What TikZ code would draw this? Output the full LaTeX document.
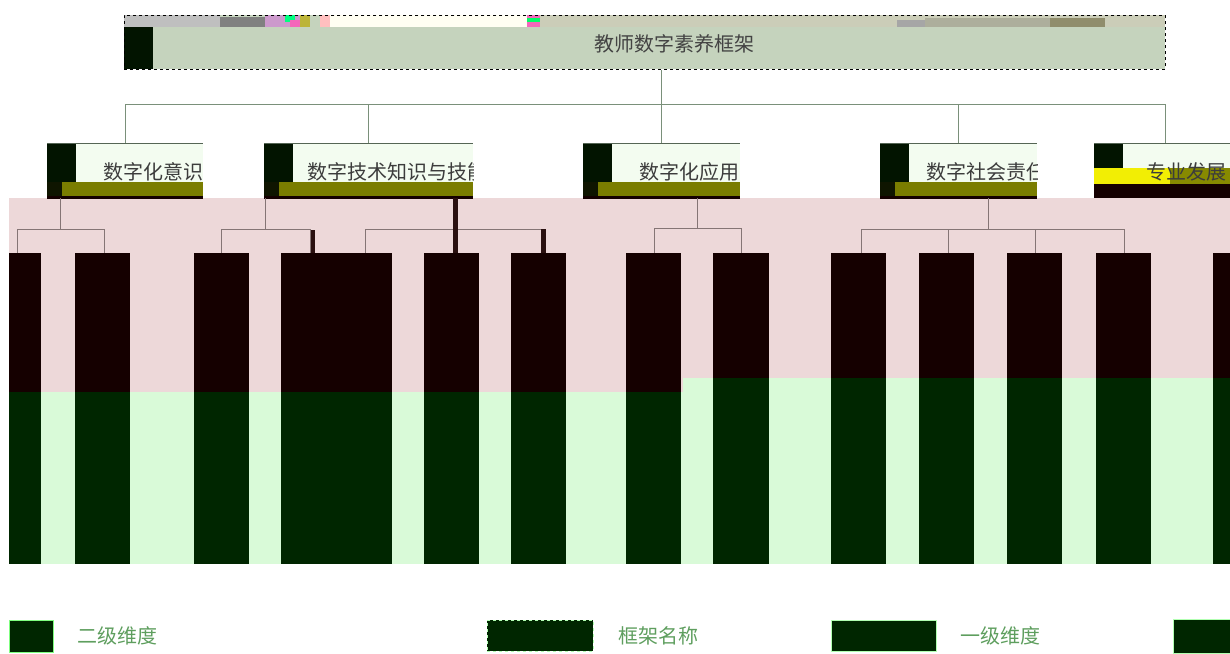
\documentclass[tikz,border=0pt]{standalone}
\usepackage{fontspec}
\newfontfamily\cjk{Noto Sans CJK SC}
\definecolor{titlefill}{HTML}{C5D3BD}
\definecolor{stripc}{HTML}{CBCDB8}
\definecolor{darksq}{HTML}{021400}
\definecolor{lonefill}{HTML}{F3FCF0}
\definecolor{olivebar}{HTML}{7A7D00}
\definecolor{cornerc}{HTML}{0F1500}
\definecolor{maroon}{HTML}{150000}
\definecolor{pinkbg}{HTML}{EDD8D9}
\definecolor{lgreen}{HTML}{D9FAD8}
\definecolor{dgreen}{HTML}{002600}
\definecolor{connc}{HTML}{857575}
\definecolor{topconn}{HTML}{7A907A}
\definecolor{legtext}{HTML}{5E9E5E}
\definecolor{labtext}{HTML}{3C3C3C}
\definecolor{barc}{HTML}{2A1010}
\newcommand\lvone[5]{%
  \fill[lonefill] (#2,143) rectangle (#3,183);
  \fill[darksq] (#2,143) rectangle (#2+29,183);
  \fill[olivebar] (#2+15,182) rectangle (#3,196);
  \fill[cornerc] (#2,182) rectangle (#2+15,196);
  \fill[maroon] (#2,196) rectangle (#3,198.5);
  \draw[topconn!70!black,line width=0.8pt] (#2,143) -- (#3,143);
  \begin{scope}
    \clip (#2,143) rectangle (#3,198);
    \node[labtext,font=\cjk\fontsize{20}{24}\selectfont,anchor=west,inner sep=0] at (#4,172) {#5};
  \end{scope}
  \node[inner sep=0,minimum width={#3-#2},minimum height=55,anchor=north west] (#1) at (#2,143) {};
}
\newcommand\colbar[4]{%
  \fill[maroon] (#2,253) rectangle (#3,#4);
  \fill[dgreen] (#2,#4) rectangle (#3,564);
  \node[inner sep=0,minimum width={#3-#2},minimum height=311,anchor=north west] (#1) at (#2,253) {};
}
\begin{document}
\begin{tikzpicture}[x=1pt,y=-1pt,
  conn/.style={connc,line width=1pt},
  tconn/.style={topconn,line width=1pt},
  legtxt/.style={legtext,font=\cjk\fontsize{20}{24}\selectfont,anchor=west,inner sep=0}]
\useasboundingbox (0,0) rectangle (1230,653);
\begin{scope}
\clip (0,0) rectangle (1230,653);
% title box
\fill[titlefill] (124,15) rectangle (1165,69);
\fill[gray!50] (124,15) rectangle (220,27);
\fill[gray!100] (220,17) rectangle (265,27);
\fill[violet!40] (265,15) rectangle (300,27);
\fill[green!50!cyan] (285,15) rectangle (295,22);
\fill[magenta!60] (290,20) rectangle (300,27);
\fill[yellow!70!black] (300,15) rectangle (310,27);
\fill[pink] (320,15) rectangle (330,27);
\fill[yellow!5] (330,15) rectangle (530,27);
\fill[magenta!60] (527,15) rectangle (540,27);
\fill[green!60!cyan] (527,18) rectangle (540,22);
\fill[stripc] (540,15) rectangle (1165,27);
\fill[gray!70] (897,20) rectangle (925,27);
\fill[stripc!85!black] (925,18) rectangle (1080,27);
\fill[gray!75!olive] (1050,18) rectangle (1105,27);
\fill[darksq] (124,27) rectangle (153,69);
\node[draw=black,dashed,line width=0.8pt,inner sep=0,minimum width=1041,minimum height=54,anchor=north west] (title) at (124,15) {};
\node[labtext!90!gray,font=\cjk\fontsize{20}{24}\selectfont,inner sep=0] at (674,44) {教师数字素养框架};
% backgrounds
\fill[pinkbg] (9,198) rectangle (1236,392);
\fill[lgreen] (9,392) rectangle (683,564);
\fill[lgreen] (683,378) rectangle (1236,564);
% level 1 boxes
\lvone{la}{47}{203}{103}{数字化意识}
\lvone{lb}{264}{473}{307}{数字技术知识与技能}
\lvone{lc}{583}{740}{639}{数字化应用}
\lvone{ld}{880}{1037}{926}{数字社会责任}
% box 5 (garbled)
\fill[lonefill] (1094,143) rectangle (1236,170);
\fill[darksq] (1094,143) rectangle (1123,170);
\fill[yellow!80!lime] (1094,168) rectangle (1236,184);
\fill[olivebar!90!yellow] (1170,168) rectangle (1236,184);
\fill[maroon] (1094,184) rectangle (1236,198);
\draw[topconn!70!black,line width=0.8pt] (1094,143) -- (1236,143);
\node[labtext,font=\cjk\fontsize{20}{24}\selectfont,anchor=west,inner sep=0] at (1146,172) {专业发展};
\node[inner sep=0,minimum width=142,minimum height=55,anchor=north west] (le) at (1094,143) {};
% columns
\colbar{ca}{9}{41}{392}
\colbar{cb}{75}{130}{392}
\colbar{cc}{194}{249}{392}
\colbar{cd}{281}{392}{392}
\colbar{ce}{424}{479}{392}
\colbar{cf}{511}{566}{392}
\colbar{cg}{626}{681}{392}
\colbar{ch}{713}{769}{378}
\colbar{ci}{831}{886}{378}
\colbar{cj}{919}{974}{378}
\colbar{ck}{1007}{1062}{378}
\colbar{cl}{1096}{1151}{378}
\colbar{cm}{1213}{1240}{378}
% top connectors
\coordinate (t0) at (661,104);
\draw[tconn] (t0 |- title.south) -- (t0);
\draw[tconn] (t0 -| la.north) -- (t0 -| le.north);
\foreach \b in {la,lb,lc,ld,le} {\draw[tconn] (t0 -| \b.north) -- (\b.north);}
% level-2 connectors
\coordinate (h1) at (60,229);
\draw[conn] (h1 |- la.south) -- (h1);
\coordinate (d1) at (17,229);
\coordinate (d2) at (104,229);
\draw[conn] (d1) -- (d2);
\draw[conn] (d1) -- (d1 |- ca.north);
\draw[conn] (d2) -- (d2 |- cb.north);
\coordinate (h2) at (265,229);
\draw[conn] (h2 |- lb.south) -- (h2);
\coordinate (d3) at (221,229);
\coordinate (d4) at (310,229);
\draw[conn] (d3) -- (d4);
\draw[conn] (d3) -- (d3 |- cc.north);
\draw[conn] (d4) -- (d4 |- cd.north);
\fill[barc] (311,230) rectangle (315,253);
\coordinate (d5) at (365,229);
\coordinate (d6) at (541,229);
\draw[conn] (d5) -- (d6);
\draw[conn] (d5) -- (d5 |- cd.north);
\fill[barc] (541,229) rectangle (546,253);
\fill[barc] (453,198) rectangle (458,253);
\coordinate (h3) at (697,228);
\draw[conn] (h3 |- lc.south) -- (h3);
\coordinate (d7) at (654,228);
\coordinate (d8) at (741,228);
\draw[conn] (d7) -- (d8);
\draw[conn] (d7) -- (d7 |- cg.north);
\draw[conn] (d8) -- (d8 |- ch.north);
\coordinate (h4) at (988,229);
\draw[conn] (h4 |- ld.south) -- (h4);
\coordinate (d9) at (861,229);
\coordinate (d10) at (948,229);
\coordinate (d11) at (1035,229);
\coordinate (d12) at (1124,229);
\draw[conn] (d9) -- (d12);
\draw[conn] (d9) -- (d9 |- ci.north);
\draw[conn] (d10) -- (d10 |- cj.north);
\draw[conn] (d11) -- (d11 |- ck.north);
\draw[conn] (d12) -- (d12 |- cl.north);
% legend
\node[fill=dgreen,draw=green!50!white,line width=0.6pt,inner sep=0,minimum width=44,minimum height=32,anchor=north west] (lg1) at (9,620) {};
\node[legtxt] (lt1) at (77,636) {二级维度};
\node[fill=dgreen,draw=green!30!white,dashed,line width=0.6pt,inner sep=0,minimum width=106,minimum height=31,anchor=north west] (lg2) at (487,620) {};
\node[legtxt] (lt2) at (618,636) {框架名称};
\node[fill=dgreen,draw=green!30!white,line width=0.6pt,inner sep=0,minimum width=105,minimum height=31,anchor=north west] (lg3) at (831,620) {};
\node[legtxt] (lt3) at (960,636) {一级维度};
\node[fill=dgreen,draw=green!30!white,line width=0.6pt,inner sep=0,minimum width=70,minimum height=34,anchor=north west] (lg4) at (1173,619) {};
\end{scope}
\end{tikzpicture}
\end{document}
